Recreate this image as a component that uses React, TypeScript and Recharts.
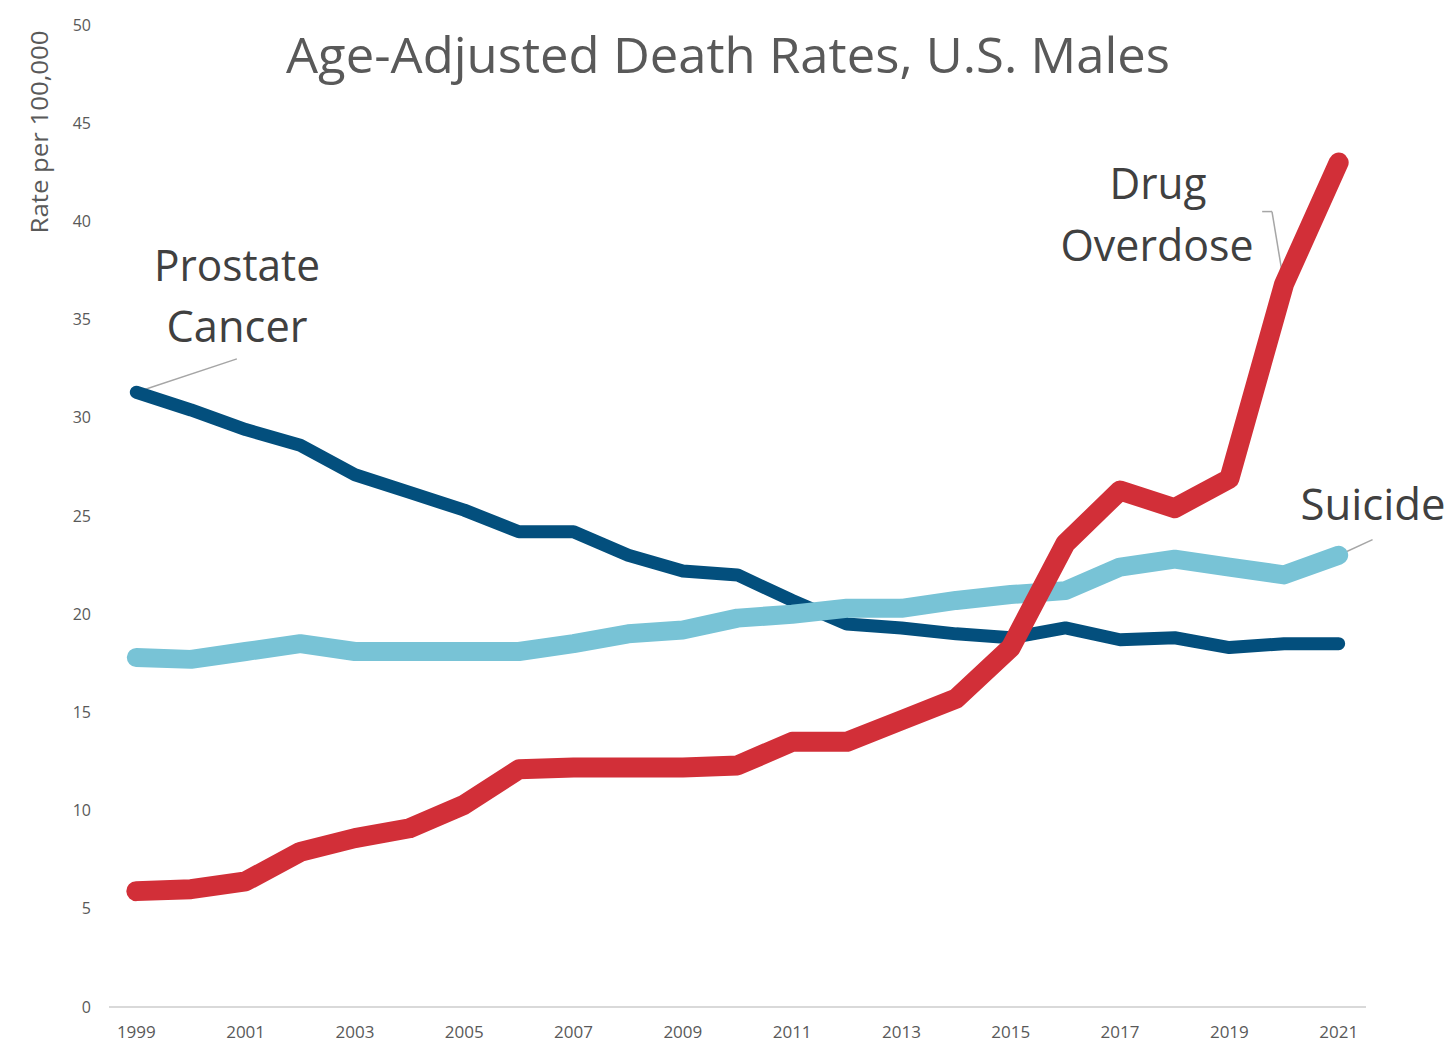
import React from "react";
import {
  LineChart,
  Line,
  XAxis,
  YAxis,
  ReferenceLine,
  Customized,
} from "recharts";

// values, rate per 100,000
const YEARS = [
  1999, 2000, 2001, 2002, 2003, 2004, 2005, 2006, 2007, 2008, 2009, 2010,
  2011, 2012, 2013, 2014, 2015, 2016, 2017, 2018, 2019, 2020, 2021,
];
const PROSTATE = [
  31.3, 30.4, 29.4, 28.6, 27.1, 26.2, 25.3, 24.2, 24.2, 23.0, 22.2, 22.0,
  20.7, 19.5, 19.3, 19.0, 18.8, 19.3, 18.7, 18.8, 18.3, 18.5, 18.5,
];
const SUICIDE = [
  17.8, 17.7, 18.1, 18.5, 18.1, 18.1, 18.1, 18.1, 18.5, 19.0, 19.2, 19.8,
  20.0, 20.3, 20.3, 20.7, 21.0, 21.2, 22.4, 22.8, 22.4, 22.0, 23.0,
];
const OVERDOSE = [
  5.9, 6.0, 6.4, 7.9, 8.6, 9.1, 10.3, 12.1, 12.2, 12.2, 12.2, 12.3, 13.5,
  13.5, 14.6, 15.7, 18.3, 23.6, 26.3, 25.4, 26.9, 36.8, 43.0,
];
const X_TICKS = [
  1999, 2001, 2003, 2005, 2007, 2009, 2011, 2013, 2015, 2017, 2019, 2021,
];
const Y_TICKS = [0, 5, 10, 15, 20, 25, 30, 35, 40, 45, 50];

const data = YEARS.map((year, i) => ({
  year,
  prostate: PROSTATE[i],
  suicide: SUICIDE[i],
  overdose: OVERDOSE[i],
}));

const FONT = "'Open Sans', 'Noto Sans', sans-serif";
const LEADER = "#a6a6a6";

// title, axis title and the series names
const Annotations = () => (
  <g fontFamily={FONT}>
    <text
      x={728}
      y={73}
      textAnchor="middle"
      fontSize={50}
      fill="#595959"
      textLength={884}
      lengthAdjust="spacingAndGlyphs"
    >
      Age-Adjusted Death Rates, U.S. Males
    </text>
    <text
      transform="translate(48,132) rotate(-90)"
      textAnchor="middle"
      fontSize={23}
      fill="#595959"
      textLength={203}
      lengthAdjust="spacingAndGlyphs"
    >
      Rate per 100,000
    </text>
    <g fontSize={44} fill="#404040" textAnchor="middle">
      <text x={237} y={281} textLength={166} lengthAdjust="spacingAndGlyphs">
        Prostate
      </text>
      <text x={237} y={342} textLength={141} lengthAdjust="spacingAndGlyphs">
        Cancer
      </text>
      <text x={1158} y={199} textLength={97} lengthAdjust="spacingAndGlyphs">
        Drug
      </text>
      <text x={1157} y={261} textLength={193} lengthAdjust="spacingAndGlyphs">
        Overdose
      </text>
      <text x={1373} y={520} textLength={145} lengthAdjust="spacingAndGlyphs">
        Suicide
      </text>
    </g>
  </g>
);

export default function App() {
  return (
    <div
      style={{
        position: "absolute",
        left: 0,
        top: 0,
        width: 1456,
        height: 1055,
        background: "#fff",
      }}
    >
      <LineChart
        width={1456}
        height={1055}
        data={data}
        margin={{ top: 25, right: 90, bottom: 18, left: 49 }}
      >
        <XAxis
          dataKey="year"
          type="number"
          domain={[1998.5, 2021.5]}
          ticks={X_TICKS}
          interval={0}
          height={30}
          axisLine={{ stroke: "#d9d9d9", strokeWidth: 2 }}
          tickLine={false}
          tickSize={0}
          tickMargin={19}
          tick={{ fontSize: 17, fill: "#595959", fontFamily: FONT }}
        />
        <YAxis
          width={60}
          domain={[0, 50]}
          ticks={Y_TICKS}
          interval={0}
          axisLine={false}
          tickLine={false}
          tickSize={0}
          tickMargin={18}
          tick={{ fontSize: 16, fill: "#595959", fontFamily: FONT }}
        />
        <ReferenceLine
          segment={[
            { x: 2000.84, y: 33.0 },
            { x: 1999, y: 31.3 },
          ]}
          stroke={LEADER}
          strokeWidth={1.5}
          ifOverflow="visible"
        />
        <ReferenceLine
          segment={[
            { x: 2019.6, y: 40.5 },
            { x: 2019.78, y: 40.5 },
          ]}
          stroke={LEADER}
          strokeWidth={1.5}
          ifOverflow="visible"
        />
        <ReferenceLine
          segment={[
            { x: 2019.78, y: 40.5 },
            { x: 2020, y: 36.8 },
          ]}
          stroke={LEADER}
          strokeWidth={1.5}
          ifOverflow="visible"
        />
        <ReferenceLine
          segment={[
            { x: 2021.62, y: 23.8 },
            { x: 2021, y: 23.0 },
          ]}
          stroke={LEADER}
          strokeWidth={1.5}
          ifOverflow="visible"
        />
        <Line
          type="linear"
          dataKey="prostate"
          stroke="#034f7d"
          strokeWidth={13}
          strokeLinecap="round"
          strokeLinejoin="round"
          dot={false}
          activeDot={false}
          isAnimationActive={false}
        />
        <Line
          type="linear"
          dataKey="suicide"
          stroke="#78c3d6"
          strokeWidth={19}
          strokeLinecap="round"
          strokeLinejoin="round"
          dot={false}
          activeDot={false}
          isAnimationActive={false}
        />
        <Line
          type="linear"
          dataKey="overdose"
          stroke="#d22f38"
          strokeWidth={20}
          strokeLinecap="round"
          strokeLinejoin="round"
          dot={false}
          activeDot={false}
          isAnimationActive={false}
        />
        <Customized component={Annotations} />
      </LineChart>
    </div>
  );
}
